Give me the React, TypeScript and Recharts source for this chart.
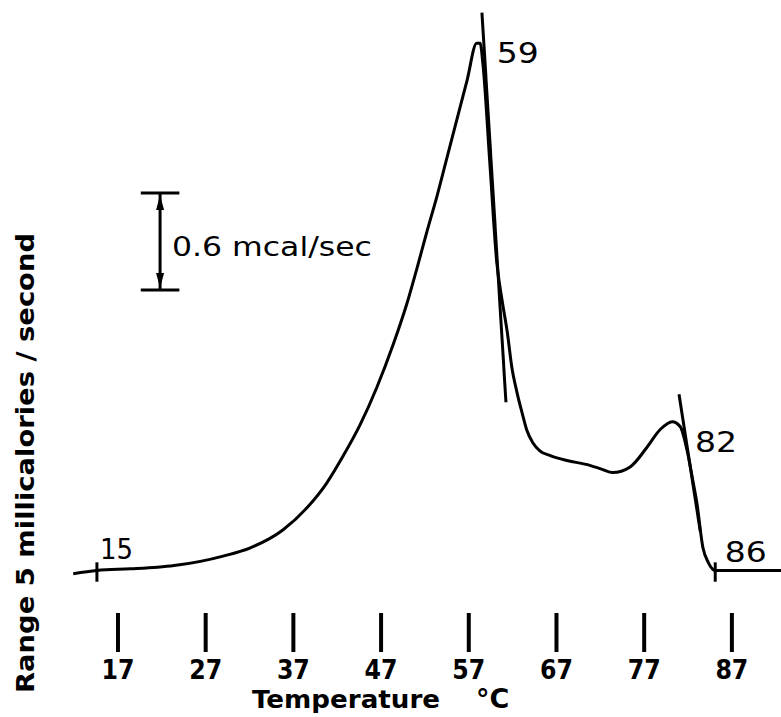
import React from 'react';
import {
  LineChart,
  Line,
  XAxis,
  YAxis,
  ReferenceLine,
  ReferenceDot,
  Label,
} from 'recharts';

// thermogram: temperature (°C) vs heat flow (mcal/s above baseline)
const temperature = [
  11.9, 14.6, 18.4, 21.5, 23.4, 29.1, 32.1, 35.8, 38.6, 40.8, 42.7, 44.6, 46.5, 48.4,
  50.0, 51.1, 52.2, 53.4, 54.5, 55.7, 56.8, 57.9, 58.3, 58.6, 59.4, 60.2, 60.8, 61.4,
  61.9, 62.5, 63.1, 63.6, 64.3, 65.1, 66.3, 68.2, 70.8, 72.2, 73.4, 75.4, 77.3, 78.8,
  80.2, 81.1, 81.9, 82.6, 83.0, 83.7, 84.3, 85.1, 92.6,
];
const heatFlow = [
  -0.01, 0.01, 0.02, 0.03, 0.04, 0.1, 0.15, 0.26, 0.4, 0.55, 0.72, 0.91, 1.14, 1.41,
  1.67, 1.88, 2.1, 2.33, 2.56, 2.81, 3.04, 3.27, 3.27, 3.15, 2.53, 1.91, 1.68, 1.48,
  1.27, 1.11, 0.98, 0.88, 0.8, 0.75, 0.72, 0.69, 0.66, 0.635, 0.615, 0.65, 0.77, 0.88,
  0.93, 0.9, 0.75, 0.55, 0.43, 0.15, 0.06, 0.01, 0.01,
];

const tempTicks = [17, 27, 37, 47, 57, 67, 77, 87];

// transition temperatures written on the trace, and where their text sits
const markText = ['15', '59', '82', '86'];
const markTextT = [14.95, 60.2, 82.8, 86.2];
const markTextV = [0.08, 3.15, 0.74, 0.06];

// small cross ticks on the baseline (onset / end)
const crossT = [14.6, 85.1];

// tangent lines drawn through the two peaks
const tangentStart = [
  { x: 58.5, y: 3.46 },
  { x: 80.97, y: 1.1 },
];
const tangentEnd = [
  { x: 61.24, y: 1.05 },
  { x: 83.4, y: 0.25 },
];

// 0.6 mcal/sec scale bar
const barT = 21.8;
const barHalf = 2.2;
const barTop = 2.344;
const barBottom = 1.744;
const barText = '0.6 mcal/sec';

const data = temperature.map((t, i) => ({ t, q: heatFlow[i] }));

const FONT = '"DejaVu Sans", sans-serif';

const TempTick = (props: any) => {
  const { x, y, payload } = props;
  return (
    <g>
      <line x1={x} x2={x} y1={y + 13} y2={y + 52} stroke="#000" strokeWidth={4} />
      <text
        x={x}
        y={y + 79}
        textAnchor="middle"
        fontFamily={FONT}
        fontWeight="bold"
        fontSize={26}
        textLength={33}
        lengthAdjust="spacingAndGlyphs"
        fill="#000"
      >
        {payload.value}
      </text>
    </g>
  );
};

const arrowUp = (props: any) => {
  const { cx, cy } = props;
  return <path d={`M${cx},${cy + 2} L${cx - 4},${cy + 17} L${cx + 4},${cy + 17} Z`} fill="#000" />;
};
const arrowDown = (props: any) => {
  const { cx, cy } = props;
  return <path d={`M${cx},${cy - 2} L${cx - 4},${cy - 17} L${cx + 4},${cy - 17} Z`} fill="#000" />;
};

const App = () => {
  return (
    <div style={{ position: 'absolute', left: 0, top: 0, background: '#fff' }}>
      <LineChart width={781} height={717} data={data} margin={{ top: 0, right: 0, bottom: 0, left: 0 }}>
        <XAxis
          dataKey="t"
          type="number"
          domain={[10.39, 92.6]}
          ticks={tempTicks}
          allowDataOverflow
          axisLine={false}
          tickLine={false}
          tickSize={0}
          tickMargin={0}
          height={117}
          tick={<TempTick />}
        >
          <Label
            content={() => (
              <g fontFamily={FONT} fontWeight="bold" fontSize={25} fill="#000">
                <text x={252} y={708} textLength={188} lengthAdjust="spacingAndGlyphs">
                  Temperature
                </text>
                <text x={476} y={708} fontSize={27}>
                  °C
                </text>
              </g>
            )}
          />
        </XAxis>
        <YAxis
          type="number"
          domain={[-0.173, 3.538]}
          allowDataOverflow
          width={60}
          tick={false}
          axisLine={false}
          tickLine={false}
        >
          <Label
            content={() => (
              <text
                x={34}
                y={463}
                transform="rotate(-90 34 463)"
                textAnchor="middle"
                fontFamily={FONT}
                fontWeight="bold"
                fontSize={25}
                textLength={460}
                lengthAdjust="spacingAndGlyphs"
                fill="#000"
              >
                Range 5 millicalories / second
              </text>
            )}
          />
        </YAxis>

        {/* baseline crosses */}
        {crossT.map((t, i) => (
          <ReferenceLine
            key={`cross-${i}`}
            segment={[
              { x: t, y: 0.06 },
              { x: t, y: -0.06 },
            ]}
            stroke="#000"
            strokeWidth={3}
          />
        ))}

        {/* tangents */}
        {tangentStart.map((s, i) => (
          <ReferenceLine
            key={`tan-${i}`}
            segment={[s, tangentEnd[i]]}
            stroke="#000"
            strokeWidth={3}
          />
        ))}

        {/* scale bar */}
        <ReferenceLine
          segment={[
            { x: barT, y: barTop },
            { x: barT, y: barBottom },
          ]}
          stroke="#000"
          strokeWidth={3}
        />
        <ReferenceLine
          segment={[
            { x: barT - barHalf, y: barTop },
            { x: barT + barHalf, y: barTop },
          ]}
          stroke="#000"
          strokeWidth={3}
        />
        <ReferenceLine
          segment={[
            { x: barT - barHalf, y: barBottom },
            { x: barT + barHalf, y: barBottom },
          ]}
          stroke="#000"
          strokeWidth={3}
        />
        <ReferenceDot x={barT} y={barTop} r={0} shape={arrowUp} />
        <ReferenceDot x={barT} y={barBottom} r={0} shape={arrowDown} />
        <ReferenceDot
          x={barT + 1.35}
          y={(barTop + barBottom) / 2 - 0.09}
          r={0}
          shape={(p: any) => (
            <text
              x={p.cx}
              y={p.cy}
              fontFamily={FONT}
              fontSize={26}
              textLength={200}
              lengthAdjust="spacingAndGlyphs"
              fill="#000"
            >
              {barText}
            </text>
          )}
        />

        {markText.map((s, i) => (
          <ReferenceDot
            key={`mark-${i}`}
            x={markTextT[i]}
            y={markTextV[i]}
            r={0}
            shape={(p: any) => (
              <text
                x={p.cx}
                y={p.cy}
                fontFamily={FONT}
                fontSize={28}
                textLength={s === '15' ? 33 : 42}
                lengthAdjust="spacingAndGlyphs"
                fill="#000"
              >
                {s}
              </text>
            )}
          />
        ))}

        <Line
          type="monotone"
          dataKey="q"
          stroke="#000"
          strokeWidth={3}
          dot={false}
          isAnimationActive={false}
        />
      </LineChart>
    </div>
  );
};

export default App;
